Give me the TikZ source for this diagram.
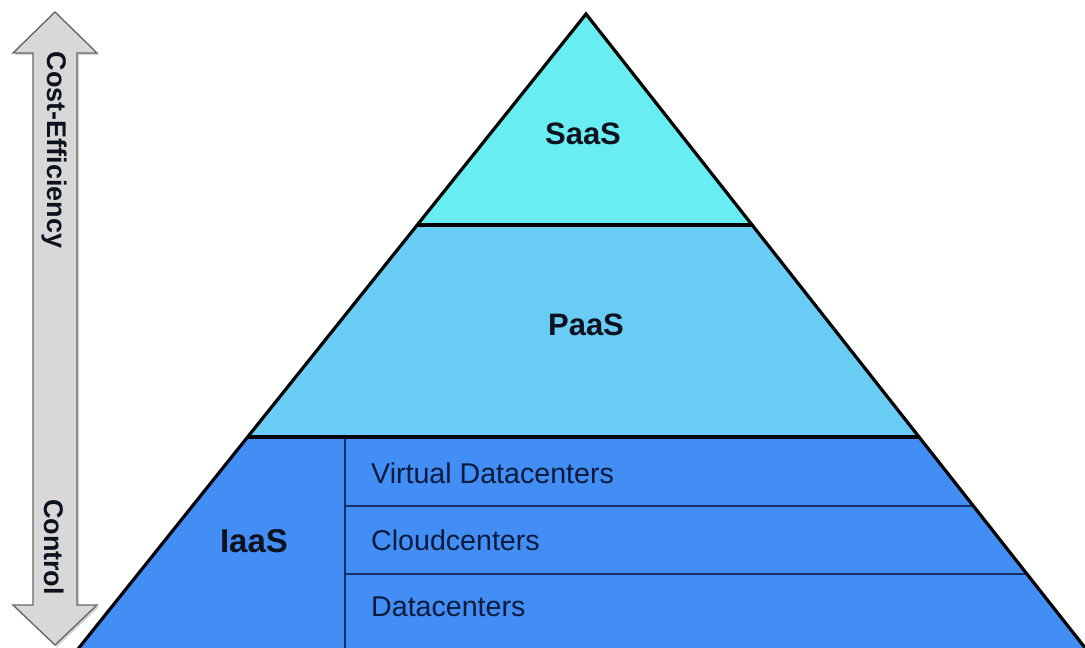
\documentclass[tikz,border=0pt]{standalone}
\usepackage{fontspec}
\setmainfont{Liberation Sans}
\usetikzlibrary{shadows}
\definecolor{saascol}{RGB}{104,238,242}
\definecolor{paascol}{RGB}{104,204,245}
\definecolor{iaascol}{RGB}{66,142,245}
\definecolor{txtcol}{RGB}{14,18,30}
\definecolor{subcol}{RGB}{12,26,62}
\definecolor{sublinecol}{RGB}{20,48,104}
\definecolor{arrowfill}{RGB}{216,216,216}
\definecolor{arrowdraw}{RGB}{105,105,105}
\tikzset{
  layerlabel/.style={font=\bfseries\fontsize{31}{31}\selectfont, text=txtcol, inner sep=0pt},
  sublabel/.style={font=\fontsize{28.6}{28.6}\selectfont, text=subcol, anchor=west, inner sep=0pt},
  arrowlabel/.style={font=\bfseries\fontsize{27}{27}\selectfont, text=txtcol, rotate=-90, inner sep=0pt},
  edge/.style={line width=3.2pt, black, line join=miter},
  subline/.style={line width=2.2pt, sublinecol}
}
\begin{document}
\begin{tikzpicture}[x=1pt,y=-1pt]
\useasboundingbox (0,0) rectangle (1085,648);
% pyramid key points
\coordinate (apex) at (586,14);
\coordinate (L1) at (417,225);
\coordinate (R1) at (752,225);
\coordinate (L2) at (247,437);
\coordinate (R2) at (919,437);
\coordinate (L3) at (78,649);
\coordinate (R3) at (1086,649);
\coordinate (D1) at (345,437);
\coordinate (D2) at (345,649);
\coordinate (S1a) at (345,506);
\coordinate (S1b) at (974,506);
\coordinate (S2a) at (345,574);
\coordinate (S2b) at (1027,574);
% fills
\fill[saascol] (apex) -- (R1) -- (L1) -- cycle;
\fill[paascol] (L1) -- (R1) -- (R2) -- (L2) -- cycle;
\fill[iaascol] (L2) -- (R2) -- (R3) -- (L3) -- cycle;
% internal lines
\draw[subline] (S1a) -- (S1b);
\draw[subline] (S2a) -- (S2b);
\draw[subline] (D1) -- (D2);
\draw[edge] (L1) -- (R1);
\draw[edge] (L2) -- (R2);
\draw[edge] (L3) -- (apex) -- (R3);
% labels
\node[layerlabel] (saas) at (583,134) {SaaS};
\node[layerlabel] (paas) at (586,325) {PaaS};
\node[layerlabel, font=\bfseries\fontsize{33}{33}\selectfont] (iaas) at (254,541) {IaaS};
\node[sublabel] (vdc) at (371,473) {Virtual Datacenters};
\node[sublabel] (cc) at (371,540) {Cloudcenters};
\node[sublabel] (dc) at (371,607) {Datacenters};
% double arrow
\draw[fill=arrowfill, draw=arrowdraw, line width=1.4pt, line join=miter,
      drop shadow={shadow xshift=2pt, shadow yshift=-2pt, opacity=0.35}]
  (55,12) -- (97,53) -- (77,53) -- (77,605) -- (97,605) -- (55,645)
  -- (13,605) -- (33,605) -- (33,53) -- (13,53) -- cycle;
\node[arrowlabel] (cost) at (54,150) {Cost-Efficiency};
\node[arrowlabel] (ctrl) at (54,547) {Control};
\end{tikzpicture}
\end{document}
